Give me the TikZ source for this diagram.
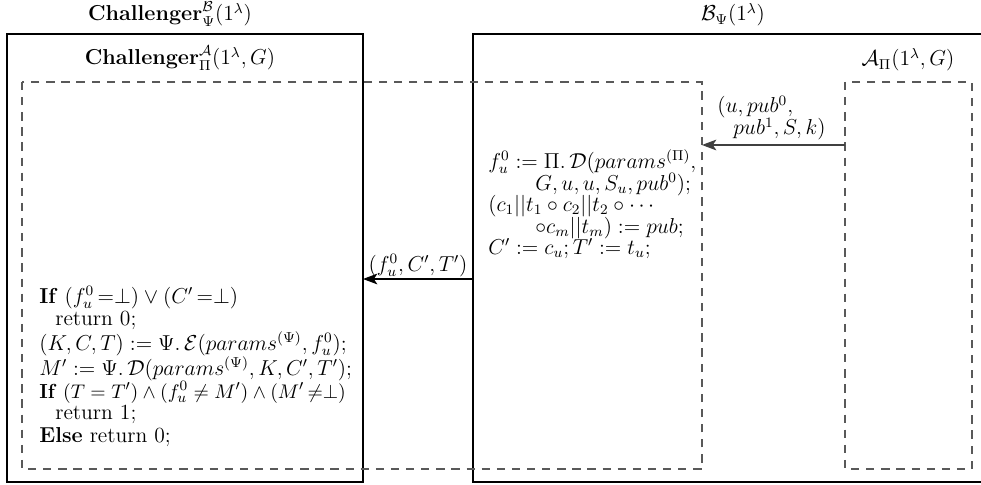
\documentclass[tikz,border=0pt]{standalone}
\usepackage{amsmath,amssymb}
\usetikzlibrary{arrows.meta}
\tikzset{
  solidbox/.style={draw=black, line width=0.6pt},
  dashbox/.style={draw=black!65, line width=0.6pt, dash pattern=on 4.6pt off 3.8pt},
  txt/.style={inner sep=0pt, anchor=base west, font=\fontsize{12pt}{14.4pt}\selectfont},
  ttl/.style={inner sep=0pt, anchor=base, font=\fontsize{12pt}{14.4pt}\selectfont},
  msg/.style={line width=0.6pt, -{Stealth[length=8pt,width=6pt,inset=2pt]}}
}
\begin{document}
\begin{tikzpicture}[x=0.5556pt,y=-0.5556pt]
\useasboundingbox (0,0) rectangle (981,485);
% boxes
\draw[solidbox] (7,34) rectangle (363,482);
\draw[solidbox] (995,34) -- (473,34) -- (473,482) -- (995,482);
\draw[dashbox] (22,82) rectangle (702,469);
\draw[dashbox] (845,82) rectangle (972,469);
% titles
\node[ttl] (tchB) at (170,21) {$\textbf{Challenger}^{\mathcal{B}}_{\Psi}(1^{\lambda})$};
\node[ttl] (tB) at (733,21) {$\mathcal{B}_{\Psi}(1^{\lambda})$};
\node[ttl] (tchA) at (180,65) {$\textbf{Challenger}^{\mathcal{A}}_{\Pi}(1^{\lambda},G)$};
\node[ttl] (tA) at (908,66) {$\mathcal{A}_{\Pi}(1^{\lambda},G)$};
% messages
\coordinate (m1s) at (845,145);
\coordinate (m1e) at (702,145);
\draw[msg, draw=black!75] (m1s) -- (m1e);
\node[txt] (m1a) at (717,113) {$(u,pub^{0},$};
\node[txt] (m1b) at (733,135) {$pub^{1},S,k)$};
\coordinate (m2s) at (473,279);
\coordinate (m2e) at (363,279);
\draw[msg, draw=black] (m2s) -- (m2e);
\node[ttl] (m2l) at (418,271) {$(f_u^0,C',T')$};
% B's computation
\node[txt] (b1) at (488,168) {$f_u^0 := \Pi.\,\mathcal{D}(params^{(\Pi)},$};
\node[txt] (b2) at (535,190) {$G,u,u,S_u,pub^0);$};
\node[txt] (b3) at (488,211) {$(c_1||t_1\circ c_2||t_2\circ\cdots$};
\node[txt] (b4) at (535,233) {$\circ c_m||t_m) := pub;$};
\node[txt] (b5) at (488,254) {$C' := c_u; T' := t_u;$};
% challenger's check
\node[txt] (c1) at (39,303) {\textbf{If} $(f_u^0\,{=}{\perp})\vee(C'\,{=}{\perp})$};
\node[txt] (c2) at (55,325) {return 0;};
\node[txt] (c3) at (39,350) {$(K,C,T) := \Psi.\,\mathcal{E}(params^{(\Psi)},f_u^0);$};
\node[txt] (c4) at (39,375) {$M' := \Psi.\,\mathcal{D}(params^{(\Psi)},K,C',T');$};
\node[txt, font=\fontsize{11.3pt}{13.6pt}\selectfont] (c5) at (39,398) {\textbf{If} $(T=T')\wedge(f_u^0\neq M')\wedge(M'\,{\neq}{\perp})$};
\node[txt] (c6) at (55,419) {return 1;};
\node[txt] (c7) at (39,442) {\textbf{Else} return 0;};
\end{tikzpicture}
\end{document}
